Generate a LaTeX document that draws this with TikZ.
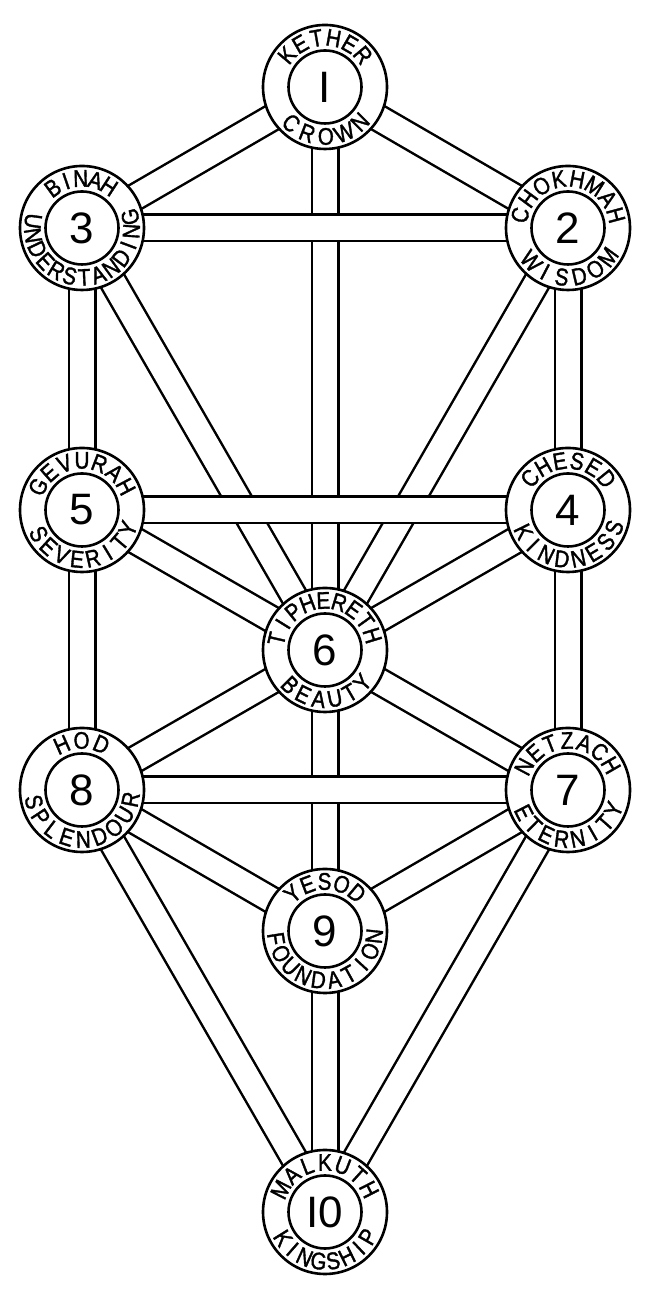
\documentclass[tikz,border=0pt]{standalone}
\usepackage{fontspec}
\setmainfont{Liberation Sans}
\newfontfamily\lblfam[FakeStretch=0.86, FakeBold=1.5]{Liberation Sans}
\usetikzlibrary{calc}
\pgfdeclarelayer{bg}
\pgfsetlayers{bg,main}
\newcommand\numfont{\fontsize{44}{50}\selectfont}
\newcommand\lbltext[1]{\lblfam\fontsize{24}{26}\selectfont#1}
% #1 node, #2 start angle, #3 end angle, #4 number of letters, #5 letters
\newcommand\toplbl[5]{%
  \foreach \ch [count=\i from 0] in {#5}{%
    \pgfmathsetmacro\ang{#2+(#3-#2)*\i/(#4-1)}%
    \node[lbl,rotate=\ang-90] (#1-t\i) at ($(#1.center)+(\ang:49.5)$) {\lbltext{\ch}};}}
\newcommand\botlbl[5]{%
  \foreach \ch [count=\i from 0] in {#5}{%
    \pgfmathsetmacro\ang{#2+(#3-#2)*\i/(#4-1)}%
    \node[lbl,rotate=\ang+90] (#1-b\i) at ($(#1.center)+(\ang:49.5)$) {\lbltext{\ch}};}}
\begin{document}
\begin{tikzpicture}[x=1pt,y=1pt,
  sefouter/.style={circle, draw, fill=white, line width=2.6pt, minimum size=124pt, inner sep=0pt},
  sefinner/.style={circle, draw, line width=2.6pt, minimum size=73pt, inner sep=0pt, font=\numfont},
  lbl/.style={inner sep=0pt},
  band/.style={double=white, double distance=24pt, line width=2.5pt}]
\useasboundingbox (0,0) rectangle (650,1300);
% sephirot
\node[sefouter] (s1) at (325,1213) {};
\node[sefouter] (s2) at (568,1072) {};
\node[sefouter] (s3) at (82,1072) {};
\node[sefouter] (s4) at (568,790) {};
\node[sefouter] (s5) at (82,790) {};
\node[sefouter] (s6) at (325,650) {};
\node[sefouter] (s7) at (568,510) {};
\node[sefouter] (s8) at (82,510) {};
\node[sefouter] (s9) at (325,369) {};
\node[sefouter] (s10) at (325,88) {};
\node[sefinner] (n1) at (s1) {I};
\node[sefinner] (n2) at (s2) {2};
\node[sefinner] (n3) at (s3) {3};
\node[sefinner] (n4) at (s4) {4};
\node[sefinner] (n5) at (s5) {5};
\node[sefinner] (n6) at (s6) {6};
\node[sefinner] (n7) at (s7) {7};
\node[sefinner] (n8) at (s8) {8};
\node[sefinner] (n9) at (s9) {9};
\node[sefinner] (n10) at (s10) {I0};
% labels
\toplbl{s1}{140}{40}{6}{K,E,T,H,E,R}
\botlbl{s1}{227}{315}{5}{C,R,O,W,N}
\toplbl{s2}{165}{15}{8}{C,H,O,K,H,M,A,H}
\botlbl{s2}{222}{324}{6}{W,I,S,D,O,M}
\toplbl{s3}{126}{57}{5}{B,I,N,A,H}
\botlbl{s3}{172}{373}{13}{U,N,D,E,R,S,T,A,N,D,I,N,G}
\toplbl{s4}{140}{39}{6}{C,H,E,S,E,D}
\botlbl{s4}{206}{339}{8}{K,I,N,D,N,E,S,S}
\toplbl{s5}{152}{28}{7}{G,E,V,U,R,A,H}
\botlbl{s5}{209}{338}{8}{S,E,V,E,R,I,T,Y}
\toplbl{s6}{167}{17}{9}{T,I,P,H,E,R,E,T,H}
\botlbl{s6}{225}{319}{6}{B,E,A,U,T,Y}
\toplbl{s7}{152}{30}{7}{N,E,T,Z,A,C,H}
\botlbl{s7}{207}{337}{8}{E,T,E,R,N,I,T,Y}
\toplbl{s8}{114}{67}{3}{H,O,D}
\botlbl{s8}{194}{349}{9}{S,P,L,E,N,D,O,U,R}
\toplbl{s9}{131}{50}{5}{Y,E,S,O,D}
\botlbl{s9}{189}{354}{10}{F,O,U,N,D,A,T,I,O,N}
\toplbl{s10}{153}{27}{7}{M,A,L,K,U,T,H}
\botlbl{s10}{212}{330}{8}{K,I,N,G,S,H,I,P}
% paths
\begin{pgfonlayer}{bg}
\fill[white] (0,0) rectangle (650,1300);
\draw[band] (s1.center) -- (s2.center);
\draw[band] (s1.center) -- (s3.center);
\draw[band] (s1.center) -- (s6.center);
\draw[band] (s2.center) -- (s4.center);
\draw[band] (s2.center) -- (s6.center);
\draw[band] (s3.center) -- (s5.center);
\draw[band] (s3.center) -- (s6.center);
\draw[band] (s4.center) -- (s6.center);
\draw[band] (s4.center) -- (s7.center);
\draw[band] (s5.center) -- (s6.center);
\draw[band] (s5.center) -- (s8.center);
\draw[band] (s6.center) -- (s7.center);
\draw[band] (s6.center) -- (s8.center);
\draw[band] (s6.center) -- (s9.center);
\draw[band] (s7.center) -- (s9.center);
\draw[band] (s7.center) -- (s10.center);
\draw[band] (s8.center) -- (s9.center);
\draw[band] (s8.center) -- (s10.center);
\draw[band] (s9.center) -- (s10.center);
\draw[band] (s2.center) -- (s3.center);
\draw[band] (s4.center) -- (s5.center);
\draw[band] (s7.center) -- (s8.center);
\end{pgfonlayer}
\end{tikzpicture}
\end{document}
